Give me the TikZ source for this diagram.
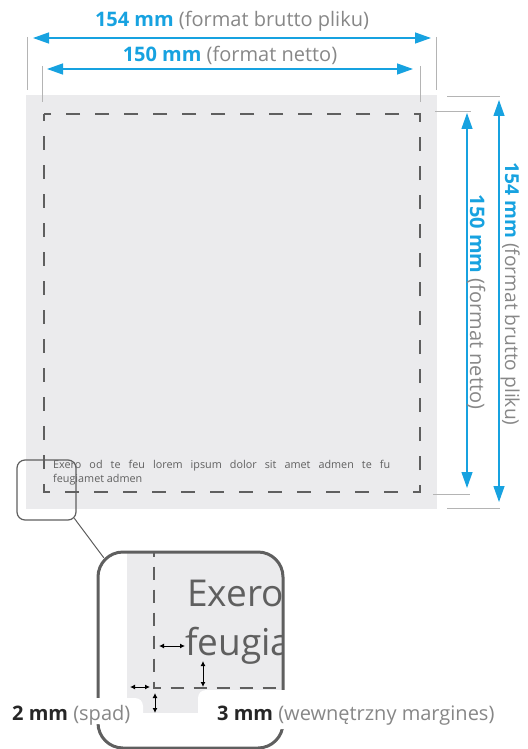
\documentclass[tikz,border=0pt]{standalone}
\usepackage{fontspec}
\setmainfont{Open Sans}
\usepackage{tikz}
\usetikzlibrary{arrows.meta}
\usetikzlibrary{fit}
\usetikzlibrary{positioning}
\definecolor{dimblue}{HTML}{17A2E0}
\definecolor{sheetgray}{HTML}{EBEBED}
\definecolor{inkgray}{HTML}{5F5F5F}
\definecolor{notegray}{HTML}{878787}
\definecolor{extgray}{HTML}{B4B4B4}
\newcommand*{\dimtext}[2]{\textcolor{dimblue}{\bfseries #1} \textcolor{notegray}{(#2)}}
\newcommand*{\gaptext}[2]{\textcolor{black!85}{\bfseries #1} \textcolor{notegray}{(#2)}}
\tikzset{
    dim/.style = {dimblue,line width=1.3pt,{Triangle[length=16pt,width=11pt]}-{Triangle[length=16pt,width=11pt]}},
    ext/.style = {extgray,line width=0.9pt},
    trim/.style = {inkgray,line width=2pt,dash pattern=on 14pt off 15pt,dash phase=7pt},
    lenstrim/.style = {inkgray,line width=2.8pt,dash pattern=on 13pt off 10pt,dash phase=8.5pt},
    gap/.style = {black,line width=1pt,{Latex[length=5pt,width=5pt]}-{Latex[length=5pt,width=5pt]}},
    mask/.style = {fill=white,rounded corners=8pt}
}
\tikzset{
    dimlabel/.style = {inner sep=0,font=\fontsize{20}{24}\selectfont},
    loupe/.style = {draw=inkgray,line width=1.2pt,rounded corners=8pt,inner sep=0},
    lensbox/.style = {draw=inkgray,line width=3pt,rounded corners=25pt,inner sep=0},
    sample/.style = {inner sep=0,text=inkgray,font=\fontsize{10.8}{14}\selectfont,anchor=base west},
    lenstext/.style = {inner sep=0,text=inkgray,font=\fontsize{37}{46}\selectfont,anchor=base west}
}
\begin{document}
\begin{tikzpicture}[x=1pt,y=-1pt]
    \useasboundingbox (0,0) rectangle (527,749);
    % Sheet
    \fill[sheetgray] (26,95) rectangle (437,509);
    \draw[trim] (44,114) rectangle (420,492);
    \node[sample] (line1) at (53,468) {\makebox[337pt][s]{Exero od te feu lorem ipsum dolor sit amet admen te fu}};
    \node[sample] (line2) at (53,482) {feugiamet admen};
    % Extension lines
    \path (27,37) coordinate (bl1) to (27,90) coordinate (bl2)
        (436,37) coordinate (br1) to (436,90) coordinate (br2)
        (42,66) coordinate (nl1) to (42,102) coordinate (nl2)
        (420,66) coordinate (nr1) to (420,102) coordinate (nr2)
        (447,96) coordinate (bt1) to (500,96) coordinate (bt2)
        (447,508) coordinate (bb1) to (500,508) coordinate (bb2)
        (435,111) coordinate (nt1) to (471,111) coordinate (nt2)
        (433,494) coordinate (nb1) to (470,494) coordinate (nb2)
    ;
    \foreach \src/\dest in {bl1/bl2,br1/br2,nl1/nl2,nr1/nr2,bt1/bt2,bb1/bb2,nt1/nt2,nb1/nb2}
        \draw[ext] (\src) -- (\dest);
    % Dimensions
    \path (33,38) coordinate (wbl) to (431,38) coordinate (wbr)
        (47,69) coordinate (wnl) to (413,69) coordinate (wnr)
        (499,100) coordinate (hbt) to (499,502) coordinate (hbb)
        (467,113) coordinate (hnt) to (467,488) coordinate (hnb)
    ;
    \foreach \src/\dest in {wbl/wbr,wnl/wnr,hbt/hbb,hnt/hnb}
        \draw[dim] (\src) -- (\dest);
    \node[dimlabel,anchor=base] (wbrutto) at (232,27) {\dimtext{154 mm}{format brutto pliku}};
    \node[dimlabel,anchor=base] (wnetto) at (230,62) {\dimtext{150 mm}{format netto}};
    \node[dimlabel,anchor=base,rotate=-90,font=\fontsize{19.2}{23}\selectfont] (hbrutto) at (505,294) {\dimtext{154 mm}{format brutto pliku}};
    \node[dimlabel,anchor=base,rotate=-90] (hnetto) at (470,302) {\dimtext{150 mm}{format netto}};
    % Loupe
    \node[loupe,minimum width=59pt,minimum height=60pt] (zoomsrc) at (46.5,490) {};
    \path (98,552) coordinate (lensnw) (283,748) coordinate (lensse);
    \begin{scope}
        \clip[rounded corners=25pt] (lensnw) rectangle (lensse);
        \fill[sheetgray] (127,552) rectangle (283,713);
        \draw[lenstrim] (154,552) -- (154,688) -- (290,688);
        \node[lenstext] (word1) at (187,606) {Exero};
        \node[lenstext] (word2) at (185,655) {feugia};
    \end{scope}
    \node[lensbox,fit=(lensnw)(lensse)] (zoomlens) {};
    \draw[inkgray,line width=1pt] ([shift={(-2.3pt,2.3pt)}]zoomsrc.south east) -- ([shift={(7.3pt,-7.3pt)}]zoomlens.north west);
    % Bleed and margin
    \fill[mask] (5,698) rectangle (143,724);
    \fill[mask] (198,690) rectangle (522,729);
    \path (159,646) coordinate (m1a) to (185,646) coordinate (m1b)
        (203,661) coordinate (m2a) to (203,687) coordinate (m2b)
        (130,687) coordinate (s1a) to (150,687) coordinate (s1b)
        (155,693) coordinate (s2a) to (155,713) coordinate (s2b)
    ;
    \foreach \src/\dest in {m1a/m1b,m2a/m2b,s1a/s1b,s2a/s2b}
        \draw[gap] (\src) -- (\dest);
    \node[dimlabel,anchor=base west] (spad) at (12,720) {\gaptext{2 mm}{spad}};
    \node[dimlabel,anchor=base west] (margin) at (217,720) {\gaptext{3 mm}{wewnętrzny margines}};
\end{tikzpicture}
\end{document}
